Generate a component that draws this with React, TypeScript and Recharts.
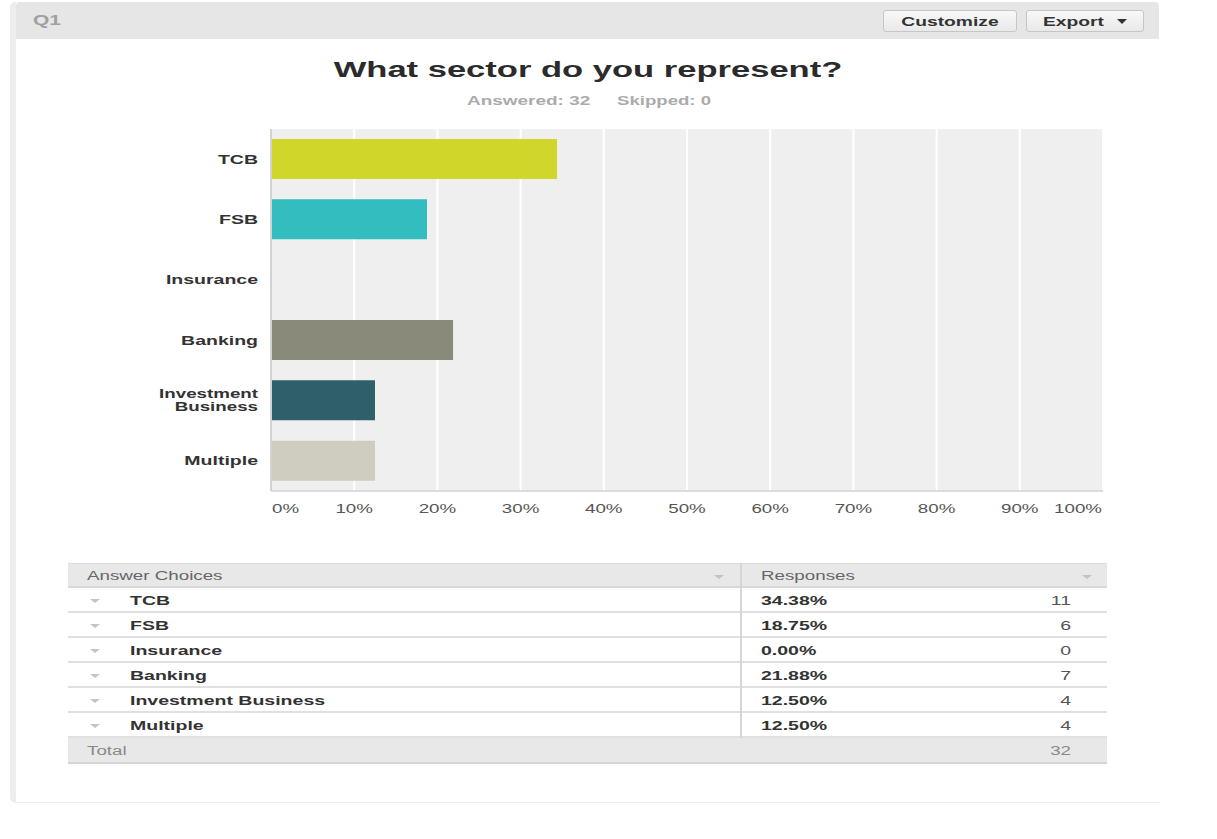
import React from 'react';
import { BarChart, Bar, XAxis, YAxis, CartesianGrid, Cell } from 'recharts';

const categories = ['TCB', 'FSB', 'Insurance', 'Banking', 'Investment Business', 'Multiple'];
const percentages = [34.38, 18.75, 0, 21.88, 12.5, 12.5];
const counts = [11, 6, 0, 7, 4, 4];
const barColors = ['#d0d62a', '#33bdbf', '#9fbf3a', '#8a8a7a', '#2e5f6b', '#cfcdbf'];
const xTicks = [0, 10, 20, 30, 40, 50, 60, 70, 80, 90, 100];
const totalResponses = 32;
const answeredCount = 32;
const skippedCount = 0;
const questionTitle = 'What sector do you represent?';
const questionLabel = 'Q1';

const data = categories.map((name, i) => ({ name, pct: percentages[i] }));

const FONT = '"Liberation Sans", Arial, Helvetica, sans-serif';
const SX = 1.5;

type TxtProps = {
  x: number;
  y: number;
  align?: 'left' | 'right' | 'center';
  size?: number;
  weight?: string | number;
  color?: string;
  sx?: number;
  children: React.ReactNode;
};

function Txt({ x, y, align = 'left', size = 13, weight = 'normal', color = '#333', sx = SX, children }: TxtProps) {
  const tx = align === 'left' ? '0' : align === 'right' ? '-100%' : '-50%';
  const origin = align === 'left' ? 'left center' : align === 'right' ? 'right center' : 'center center';
  return (
    <div
      style={{
        position: 'absolute',
        left: x,
        top: y,
        transform: `translate(${tx}, -50%) scaleX(${sx})`,
        transformOrigin: origin,
        whiteSpace: 'nowrap',
        fontSize: size,
        fontWeight: weight as any,
        color,
        lineHeight: 1,
        fontFamily: FONT,
      }}
    >
      {children}
    </div>
  );
}

const XTick = (props: any) => {
  const { x, y, payload } = props;
  const v = payload.value;
  const anchor = v === 0 ? 'start' : v === 100 ? 'end' : 'middle';
  const ax = v === 0 ? x + 1 : v === 100 ? x - 1 : x;
  return (
    <text
      x={ax}
      y={y}
      dy="0.35em"
      textAnchor={anchor}
      fontSize={12.5}
      fill="#555"
      fontFamily={FONT}
      transform={`translate(${ax} 0) scale(${SX} 1) translate(${-ax} 0)`}
    >
      {`${v}%`}
    </text>
  );
};

const YTick = (props: any) => {
  const { x, y, payload } = props;
  const label: string = payload.value;
  const lines = label.length > 12 ? label.split(' ') : [label];
  const lh = 13;
  const start = -((lines.length - 1) * lh) / 2;
  return (
    <g>
      {lines.map((l, i) => (
        <text
          key={i}
          x={x}
          y={y + start + i * lh}
          dy="0.35em"
          textAnchor="end"
          fontSize={lines.length > 1 ? 12.5 : 13}
          fontWeight="bold"
          fill="#333"
          fontFamily={FONT}
          transform={`translate(${x} 0) scale(${SX} 1) translate(${-x} 0)`}
        >
          {l}
        </text>
      ))}
    </g>
  );
};

function Caret({ x, y, color = '#c4c4c4', w = 10, h = 4 }: { x: number; y: number; color?: string; w?: number; h?: number }) {
  return (
    <div
      style={{
        position: 'absolute',
        left: x - w / 2,
        top: y - h / 2,
        width: 0,
        height: 0,
        borderLeft: `${w / 2}px solid transparent`,
        borderRight: `${w / 2}px solid transparent`,
        borderTop: `${h}px solid ${color}`,
      }}
    />
  );
}

function Button({ left, width, label, caret }: { left: number; width: number; label: string; caret?: boolean }) {
  return (
    <>
      <div
        style={{
          position: 'absolute',
          left,
          top: 10,
          width: width - 2,
          height: 20,
          border: '1px solid #c6c6c6',
          borderRadius: 3,
          background: 'linear-gradient(#f8f8f8, #e9e9e9)',
        }}
      />
      <Txt x={caret ? left + 17 : left + width / 2} y={21} align={caret ? 'left' : 'center'} size={13} weight="bold" color="#333" sx={1.48}>
        {label}
      </Txt>
      {caret && <Caret x={left + width - 22} y={21} color="#333" w={10} h={5} />}
    </>
  );
}

const TABLE_LEFT = 68;
const TABLE_RIGHT = 1107;
const TABLE_TOP = 563;
const ROW_H = 25;
const DIVIDER_X = 741;

export default function App() {
  const rowsTop = TABLE_TOP + ROW_H;
  const totalTop = rowsTop + categories.length * ROW_H;
  return (
    <div
      style={{
        position: 'absolute',
        left: 0,
        top: 0,
        width: 1217,
        height: 839,
        background: '#fff',
        overflow: 'hidden',
        fontFamily: FONT,
      }}
    >
      {/* panel */}
      <div
        style={{
          position: 'absolute',
          left: 10,
          top: 2,
          width: 1149,
          height: 801,
          borderLeft: '6px solid #ededed',
          borderBottom: '1px solid #eeeeee',
          borderRadius: '5px 5px 0 6px',
          boxSizing: 'border-box',
        }}
      />
      {/* header */}
      <div
        style={{
          position: 'absolute',
          left: 16,
          top: 2,
          width: 1143,
          height: 37,
          background: '#e6e6e6',
          borderRadius: '4px 4px 0 0',
        }}
      />
      <Txt x={33} y={20} size={14} weight="bold" color="#a0a0a0">
        {questionLabel}
      </Txt>
      <Button left={883} width={134} label="Customize" />
      <Button left={1026} width={118} label="Export" caret />

      {/* title */}
      <Txt x={588} y={70} align="center" size={22} weight="bold" color="#2b2b2b" sx={1.57}>
        {questionTitle}
      </Txt>
      <Txt x={467} y={101} size={12} weight="bold" color="#ababab" sx={1.58}>
        {`Answered: ${answeredCount}`}
      </Txt>
      <Txt x={617} y={101} size={12} weight="bold" color="#ababab" sx={1.55}>
        {`Skipped: ${skippedCount}`}
      </Txt>

      {/* chart */}
      <div style={{ position: 'absolute', left: 0, top: 0 }}>
        <BarChart
          width={1217}
          height={530}
          data={data}
          layout="vertical"
          margin={{ top: 129, right: 114, bottom: 9, left: 121 }}
          barCategoryGap={0}
        >
          <CartesianGrid horizontal={false} vertical={true} fill="#efefef" stroke="#ffffff" strokeWidth={2} />
          <XAxis
            type="number"
            domain={[0, 100]}
            ticks={xTicks}
            interval={0}
            height={30}
            axisLine={{ stroke: '#dcdcdc', strokeWidth: 2 }}
            tickLine={false}
            tickSize={0}
            tickMargin={18}
            tick={<XTick />}
          />
          <YAxis
            type="category"
            dataKey="name"
            width={150}
            axisLine={{ stroke: '#d2d2d2', strokeWidth: 2 }}
            tickLine={false}
            tickSize={0}
            tickMargin={13}
            interval={0}
            tick={<YTick />}
          />
          <Bar dataKey="pct" barSize={40} isAnimationActive={false}>
            {data.map((d, i) => (
              <Cell key={d.name} fill={barColors[i]} />
            ))}
          </Bar>
        </BarChart>
      </div>

      {/* table */}
      <div
        style={{
          position: 'absolute',
          left: TABLE_LEFT,
          top: TABLE_TOP,
          width: TABLE_RIGHT - TABLE_LEFT,
          height: ROW_H,
          background: '#e8e8e8',
          borderTop: '1px solid #dcdcdc',
          borderBottom: '2px solid #d8d8d8',
          boxSizing: 'border-box',
        }}
      />
      <Txt x={87} y={TABLE_TOP + 12.5} size={12.5} color="#666">
        Answer Choices
      </Txt>
      <Caret x={719} y={TABLE_TOP + 14} />
      <Txt x={761} y={TABLE_TOP + 12.5} size={12.5} color="#666">
        Responses
      </Txt>
      <Caret x={1087} y={TABLE_TOP + 14} />

      {categories.map((name, i) => {
        const top = rowsTop + i * ROW_H;
        return (
          <React.Fragment key={name}>
            <div
              style={{
                position: 'absolute',
                left: TABLE_LEFT,
                top,
                width: TABLE_RIGHT - TABLE_LEFT,
                height: ROW_H,
                borderBottom: '2px solid #e0e0e0',
                boxSizing: 'border-box',
              }}
            />
            <Caret x={95} y={top + 13} />
            <Txt x={130} y={top + 12} size={13} weight="bold" color="#333">
              {name}
            </Txt>
            <Txt x={761} y={top + 12} size={13} weight="bold" color="#333">
              {`${percentages[i].toFixed(2)}%`}
            </Txt>
            <Txt x={1071} y={top + 12} align="right" size={13} color="#555">
              {String(counts[i])}
            </Txt>
          </React.Fragment>
        );
      })}
      {/* divider */}
      <div
        style={{
          position: 'absolute',
          left: DIVIDER_X - 1,
          top: TABLE_TOP,
          width: 2,
          height: totalTop - TABLE_TOP,
          background: '#d6d6d6',
        }}
      />
      {/* total row */}
      <div
        style={{
          position: 'absolute',
          left: TABLE_LEFT,
          top: totalTop,
          width: TABLE_RIGHT - TABLE_LEFT,
          height: ROW_H + 1,
          background: '#e8e8e8',
          borderBottom: '2px solid #d4d4d4',
          boxSizing: 'border-box',
        }}
      />
      <Txt x={87} y={totalTop + 12.5} size={12.5} color="#888">
        Total
      </Txt>
      <Txt x={1071} y={totalTop + 12.5} align="right" size={12.5} color="#888">
        {String(totalResponses)}
      </Txt>
    </div>
  );
}
